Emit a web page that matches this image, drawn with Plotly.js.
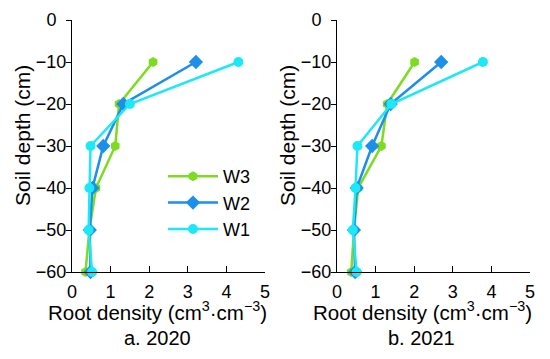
<!DOCTYPE html>
<html><head><meta charset="utf-8">
<script src="https://cdn.plot.ly/plotly-3.0.1.min.js"></script>
<style>html,body{margin:0;padding:0;background:#fff}</style>
</head><body><div id="chart" style="width:550px;height:359px"></div>
<script>
const depth = [-10, -20, -30, -40, -50, -60];
const seriesNames = ["W3", "W2", "W1"];
const w3_2020 = [2.1, 1.22, 1.12, 0.62, 0.45, 0.35];
const w2_2020 = [3.21, 1.33, 0.81, 0.53, 0.46, 0.48];
const w1_2020 = [4.31, 1.5, 0.48, 0.45, 0.43, 0.52];
const w3_2021 = [2.01, 1.3, 1.15, 0.55, 0.44, 0.37];
const w2_2021 = [2.7, 1.39, 0.91, 0.51, 0.44, 0.47];
const w1_2021 = [3.78, 1.41, 0.53, 0.48, 0.41, 0.51];
const xTicks = [0, 1, 2, 3, 4, 5];
const yTicks = [0, -10, -20, -30, -40, -50, -60];
const panelLabels = ["a. 2020", "b. 2021"];
const xTitle = "Root density (cm<sup>3</sup>·cm<sup>−3</sup>)";
const yTitle = "Soil depth (cm)";

const colors = {W3: "#7ddc1f", W2: "#1b8fea", W1: "#1ee8f8"};
const symbols = {W3: "hexagon", W2: "diamond", W1: "circle"};
const F = "Liberation Sans, Arial, sans-serif";
const T = 20, B = 272, H = B - T;
const panels = [[72, 265], [337, 530]];

function tr(name, x, xa, ya, show) {
  return {x: x, y: depth, xaxis: xa, yaxis: ya, name: name, type: "scatter",
    mode: "lines+markers", showlegend: show, cliponaxis: false,
    line: {color: colors[name], width: 2.5},
    marker: {color: colors[name], symbol: symbols[name], size: name === "W2" ? 11 : 10}};
}
function labelHolder(xa, ya) {
  return {x: [null], y: [null], xaxis: xa, yaxis: ya, type: "scatter", mode: "markers",
    showlegend: false, hoverinfo: "skip", marker: {opacity: 0}};
}
const data = [
  tr("W3", w3_2020, "x", "y", true), tr("W2", w2_2020, "x", "y", true), tr("W1", w1_2020, "x", "y", true),
  tr("W3", w3_2021, "x2", "y2", false), tr("W2", w2_2021, "x2", "y2", false), tr("W1", w1_2021, "x2", "y2", false),
  labelHolder("x", "y3"), labelHolder("x2", "y4")
];
function xax(dom, anchor) {
  return {domain: dom, anchor: anchor, range: [0, 5], tickvals: xTicks, ticktext: xTicks.map(String),
    ticks: "inside", ticklen: 6, tickcolor: "#000", showline: true, linecolor: "#000", linewidth: 1.2,
    showgrid: false, zeroline: false, tickfont: {family: F, size: 18, color: "#000"}, automargin: false,
    ticklabelstandoff: 3};
}
function yax(anchor) {
  return {domain: [0, 1], anchor: anchor, range: [-60, 0], tickvals: yTicks, showticklabels: false,
    ticks: "outside", ticklen: 5, tickcolor: "#000", showline: true, linecolor: "#000", linewidth: 1.2,
    showgrid: false, zeroline: false, automargin: false};
}
function ylab(anchor, over) {
  return {domain: [0, 1], anchor: anchor, overlaying: over, side: "left", range: [-60, 0], tickvals: yTicks,
    ticktext: yTicks.map(v => v === 0 ? "0&nbsp;&nbsp;" : "−" + Math.abs(v)),
    ticks: "outside", ticklen: 1, tickcolor: "rgba(0,0,0,0)", showline: false,
    showgrid: false, zeroline: false, tickfont: {family: F, size: 18, color: "#000"}, automargin: false};
}
const ann = [];
panels.forEach((p, i) => {
  const tf = {family: F, color: "#000"};
  ann.push({text: xTitle, x: (p[0] + 85.5) / 550, y: (B - 311) / H, xref: "paper", yref: "paper",
    xanchor: "center", yanchor: "middle", showarrow: false, font: Object.assign({size: 20.5}, tf)});
  ann.push({text: panelLabels[i], x: (p[0] + 85) / 550, y: (B - 338) / H, xref: "paper", yref: "paper",
    xanchor: "center", yanchor: "middle", showarrow: false, font: Object.assign({size: 20}, tf)});
  ann.push({text: yTitle, x: (p[0] - 50) / 550, y: (B - 136) / H, xref: "paper", yref: "paper",
    xanchor: "center", yanchor: "middle", textangle: -90, showarrow: false, font: Object.assign({size: 21}, tf)});
});
const layout = {
  width: 550, height: 359, margin: {l: 0, r: 0, t: T, b: 359 - B},
  paper_bgcolor: "#fff", plot_bgcolor: "#fff",
  xaxis: xax([panels[0][0]/550, panels[0][1]/550], "y"), yaxis: yax("x"),
  xaxis2: xax([panels[1][0]/550, panels[1][1]/550], "y2"), yaxis2: yax("x2"),
  yaxis3: ylab("x", "y"), yaxis4: ylab("x2", "y2"),
  legend: {x: 163/550, y: (B - 158) / H, xref: "paper", yref: "paper", xanchor: "left", yanchor: "top",
    font: {family: F, size: 18, color: "#000"}, bgcolor: "rgba(0,0,0,0)", itemwidth: 50, tracegroupgap: 0},
  annotations: ann
};
Plotly.newPlot("chart", data, layout, {displayModeBar: false, staticPlot: true});
</script></body></html>
